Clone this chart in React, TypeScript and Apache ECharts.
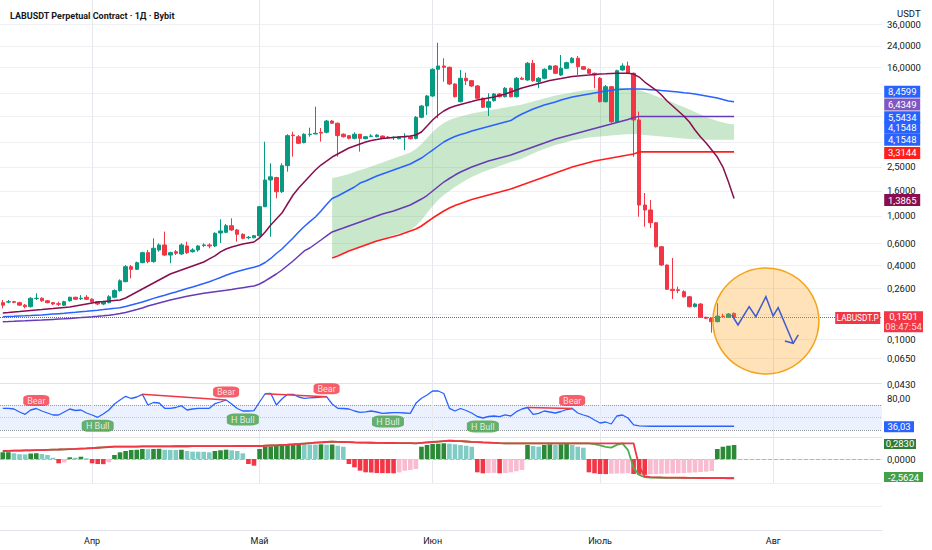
import React, { useEffect, useRef } from "react";
import * as echarts from "echarts";

// ---------------- categories (daily) ----------------
const START_UTC = Date.UTC(2025, 2, 16);
const DAY_COUNT = 158;
const monthNames = ["Янв", "Фев", "Мар", "Апр", "Май", "Июн", "Июль", "Авг", "Сен", "Окт", "Ноя", "Дек"];
const categories: string[] = Array.from({ length: DAY_COUNT }, (_, k) =>
  new Date(START_UTC + k * 86400000).toISOString().slice(0, 10)
);

// ---------------- price axis ticks ----------------
const priceTicks = [36, 24, 16, 10, 6.5, 4, 2.5, 1.6, 1, 0.6, 0.4, 0.26, 0.16, 0.1, 0.065, 0.043];
// tick labels that sit behind the value tags in the reference
const coveredTickLabels = [10, 6.5, 4, 0.16];
const edgeTickLabels = [0.043];
const rsiTickLabels = [80];

// ---------------- candles [open, close, low, high] ----------------
const candles = [
  [0.198, 0.189, 0.178, 0.208], [0.2, 0.2015, 0.1956, 0.208], [0.2015, 0.199, 0.196, 0.205], [0.198, 0.189, 0.187, 0.2015],
  [0.189, 0.1836, 0.178, 0.193], [0.1836, 0.215, 0.181, 0.219], [0.214, 0.215, 0.208, 0.236], [0.215, 0.205, 0.2015, 0.219],
  [0.205, 0.198, 0.1956, 0.208], [0.198, 0.193, 0.189, 0.2], [0.194, 0.192, 0.186, 0.2015], [0.189, 0.2015, 0.186, 0.205],
  [0.205, 0.219, 0.2015, 0.221], [0.219, 0.211, 0.208, 0.221], [0.213, 0.215, 0.208, 0.228], [0.219, 0.211, 0.208, 0.228],
  [0.211, 0.2015, 0.198, 0.215], [0.2015, 0.193, 0.189, 0.204], [0.193, 0.2015, 0.189, 0.205], [0.198, 0.221, 0.1956, 0.228],
  [0.219, 0.248, 0.215, 0.254], [0.248, 0.298, 0.243, 0.306], [0.293, 0.388, 0.29, 0.4], [0.388, 0.369, 0.312, 0.4],
  [0.369, 0.418, 0.365, 0.426], [0.418, 0.504, 0.413, 0.513], [0.504, 0.426, 0.413, 0.53], [0.426, 0.547, 0.418, 0.659],
  [0.53, 0.582, 0.513, 0.6], [0.582, 0.482, 0.474, 0.746], [0.482, 0.504, 0.413, 0.513], [0.513, 0.498, 0.482, 0.53],
  [0.492, 0.582, 0.482, 0.6], [0.571, 0.504, 0.492, 0.619], [0.513, 0.53, 0.504, 0.547], [0.53, 0.571, 0.513, 0.582],
  [0.576, 0.582, 0.56, 0.6], [0.582, 0.571, 0.547, 0.6], [0.571, 0.724, 0.56, 0.737], [0.728, 0.756, 0.604, 0.94],
  [0.737, 0.834, 0.724, 0.861], [0.834, 0.77, 0.756, 0.958], [0.77, 0.71, 0.619, 0.784], [0.71, 0.659, 0.647, 0.724],
  [0.666, 0.672, 0.647, 0.688], [0.666, 0.692, 0.659, 0.701], [0.692, 1.19, 0.679, 1.206], [1.19, 1.96, 1.18, 4.01],
  [1.96, 2.08, 0.679, 2.68], [2.05, 1.575, 1.392, 2.08], [1.575, 2.56, 1.537, 2.68], [2.56, 4.49, 2.29, 4.61],
  [4.54, 4.49, 3.03, 4.83], [4.4, 3.89, 3.84, 4.54], [3.94, 4.61, 3.89, 4.69], [4.58, 4.61, 4.4, 5.21],
  [4.63, 4.69, 4.61, 7.71], [4.78, 4.71, 4.01, 5.18], [4.78, 5.9, 4.69, 6.02], [5.9, 5.66, 5.59, 6.02],
  [5.66, 4.49, 3.03, 5.74], [4.61, 4.4, 4.33, 4.69], [4.49, 4.27, 4.18, 4.54], [4.27, 4.61, 4.19, 4.78],
  [4.61, 4.27, 3.33, 4.63], [4.24, 4.4, 4.19, 4.46], [4.43, 4.46, 4.35, 4.61], [4.4, 4.54, 4.35, 4.61],
  [4.46, 4.27, 4.22, 4.49], [4.37, 4.33, 4.24, 4.46], [4.33, 4.36, 4.14, 4.43], [4.24, 4.4, 4.19, 4.46],
  [4.37, 4.4, 3.43, 4.69], [4.4, 4.24, 4.19, 4.46], [4.27, 6.33, 4.19, 6.48], [6.33, 7.81, 6.21, 7.96],
  [7.81, 9.42, 6.61, 9.59], [9.42, 15.52, 9.24, 15.81], [15.52, 16.51, 6.21, 25.5], [16.51, 16.11, 12.31, 19.07],
  [16.11, 11.79, 11.57, 16.3], [11.79, 9.3, 9.16, 11.95], [8.47, 13.12, 8.36, 15.32], [13.12, 12.54, 11.57, 14.57],
  [12.54, 11.36, 11.15, 12.71], [11.36, 9.03, 8.92, 11.57], [9.03, 7.63, 7.54, 9.16], [7.63, 8.47, 6.48, 9.91],
  [8.63, 9.78, 8.47, 9.96], [9.78, 9.3, 9.16, 9.96], [9.3, 10.88, 9.16, 11.15], [10.88, 9.3, 9.16, 11.05],
  [9.3, 13.12, 9.16, 13.45], [13.12, 12.87, 12.71, 13.5], [12.71, 17.36, 12.54, 17.8], [17.36, 12.54, 12.31, 18.46],
  [12.31, 13.12, 10.88, 13.45], [13.12, 15.52, 12.87, 15.81], [15.52, 16.51, 15.32, 16.8], [16.51, 14.4, 14.22, 16.8],
  [13.95, 15.81, 13.7, 20.27], [15.81, 17.56, 15.6, 17.89], [17.56, 19.07, 17.36, 19.5], [19.07, 16.3, 13.95, 19.9],
  [16.3, 15.52, 15.32, 16.51], [15.52, 14.4, 14.22, 15.81], [14.4, 13.95, 10.88, 14.57], [13.12, 8.47, 8.36, 13.45],
  [8.47, 11.21, 8.36, 11.57], [11.21, 5.83, 5.69, 11.36], [5.83, 15.12, 5.69, 15.4], [15.32, 16.51, 15.1, 17.36],
  [16.51, 14.4, 14.22, 17.89], [14.4, 6.02, 3.03, 14.6], [6.02, 1.228, 0.987, 7.03], [1.228, 1.119, 0.819, 1.537],
  [1.119, 0.882, 0.799, 1.349], [0.882, 0.563, 0.555, 0.894], [0.563, 0.4, 0.393, 0.571], [0.4, 0.254, 0.251, 0.404],
  [0.254, 0.248, 0.212, 0.456], [0.252, 0.249, 0.236, 0.267], [0.243, 0.221, 0.218, 0.2495], [0.221, 0.1836, 0.181, 0.224],
  [0.1836, 0.193, 0.181, 0.197], [0.193, 0.1506, 0.1486, 0.1956], [0.1506, 0.1478, 0.146, 0.1525], [0.1478, 0.1387, 0.113, 0.1501],
  [0.1387, 0.154, 0.137, 0.1956], [0.154, 0.1525, 0.1486, 0.161], [0.1506, 0.16, 0.1486, 0.163], [0.162, 0.1501, 0.1486, 0.165],
];

// ---------------- moving averages ----------------
const maFast = [
  0.1632, 0.1647, 0.1663, 0.1678, 0.1694, 0.171, 0.1726, 0.1742, 0.1759, 0.1775,
  0.1792, 0.1809, 0.1826, 0.186, 0.1895, 0.1931, 0.1968, 0.2005, 0.2023, 0.2042,
  0.2062, 0.2081, 0.216, 0.2284, 0.2416, 0.2556, 0.2703, 0.2859, 0.3024, 0.3198,
  0.3382, 0.3511, 0.3645, 0.3784, 0.3928, 0.4078, 0.4233, 0.448, 0.4738, 0.5106,
  0.5397, 0.5602, 0.5761, 0.5925, 0.6037, 0.6151, 0.663, 0.7417, 0.8452, 0.9449,
  1.057, 1.251, 1.48, 1.687, 1.887, 2.111, 2.362, 2.593, 2.794, 3.011,
  3.185, 3.368, 3.563, 3.699, 3.84, 3.986, 4.1, 4.176, 4.255, 4.295,
  4.336, 4.376, 4.417, 4.459, 4.543, 4.805, 5.375, 6.013, 6.603, 7.116,
  7.526, 7.813, 8.035, 8.263, 8.498, 8.74, 8.9, 9.067, 9.239, 9.501,
  9.772, 10.14, 10.53, 10.94, 11.25, 11.57, 11.9, 12.23, 12.58, 12.81,
  13.05, 13.3, 13.55, 13.68, 13.81, 13.93, 14.07, 14.2, 14.25, 14.33,
  14.39, 14.39, 14.39, 14.2, 13.42, 12.23, 11.35, 10.53, 9.59, 8.578,
  7.813, 7.116, 6.481, 5.792, 4.988, 4.376, 3.912, 3.432, 3.011, 2.498, 1.887, 1.3865,
];
const maMid = [
  0.1523, 0.1529, 0.1534, 0.1543, 0.1549, 0.1557, 0.1566, 0.1575, 0.1587, 0.1599,
  0.1611, 0.1623, 0.1638, 0.1653, 0.1669, 0.1685, 0.1704, 0.172, 0.1739, 0.1759,
  0.1779, 0.1802, 0.1843, 0.1895, 0.1949, 0.2005, 0.2073, 0.2144, 0.2213, 0.2276,
  0.2349, 0.2416, 0.2494, 0.2575, 0.2653, 0.2739, 0.2832, 0.2929, 0.3046, 0.3168,
  0.3301, 0.3433, 0.3544, 0.3645, 0.3749, 0.3833, 0.3965, 0.4193, 0.4521, 0.4964,
  0.5397, 0.5981, 0.663, 0.7417, 0.8218, 0.899, 0.9809, 1.097, 1.239, 1.386,
  1.4526, 1.536, 1.625, 1.719, 1.852, 1.923, 2.015, 2.111, 2.192, 2.275,
  2.362, 2.452, 2.545, 2.642, 2.794, 2.955, 3.185, 3.432, 3.699, 3.986,
  4.216, 4.417, 4.586, 4.716, 4.896, 5.035, 5.178, 5.325, 5.477, 5.632,
  5.792, 5.957, 6.361, 6.728, 7.05, 7.387, 7.669, 7.96, 8.187, 8.419,
  8.74, 8.983, 9.239, 9.413, 9.59, 9.772, 9.956, 10.14, 10.335, 10.49,
  10.63, 10.69, 10.73, 10.73, 10.73, 10.67, 10.61, 10.53, 10.43, 10.335,
  10.24, 10.14, 10.01, 9.9, 9.772, 9.59, 9.413, 9.239, 9.067, 8.817, 8.578, 8.4599,
];
const maSlow = [
  0.1387, 0.1392, 0.1398, 0.1405, 0.1411, 0.1419, 0.1427, 0.1432, 0.144, 0.1448,
  0.1456, 0.1464, 0.1475, 0.1486, 0.1497, 0.1509, 0.152, 0.1534, 0.1549, 0.1566,
  0.1587, 0.1614, 0.1647, 0.1694, 0.1742, 0.1792, 0.186, 0.1913, 0.1968, 0.2023,
  0.2081, 0.2132, 0.218, 0.2229, 0.2276, 0.2319, 0.2358, 0.2394, 0.243, 0.2462,
  0.2494, 0.2532, 0.2575, 0.2619, 0.2663, 0.2703, 0.2806, 0.2968, 0.3168, 0.3382,
  0.3645, 0.3965, 0.4313, 0.4738, 0.5202, 0.5498, 0.5925, 0.6385, 0.6883, 0.7417,
  0.77, 0.7991, 0.8295, 0.8612, 0.894, 0.928, 0.9627, 1.0, 1.0375, 1.067,
  1.097, 1.1393, 1.1827, 1.228, 1.2985, 1.3735, 1.466, 1.595, 1.735, 1.887,
  2.015, 2.151, 2.275, 2.384, 2.498, 2.593, 2.692, 2.794, 2.874, 2.955,
  3.039, 3.126, 3.245, 3.368, 3.497, 3.631, 3.769, 3.912, 4.061, 4.216,
  4.336, 4.459, 4.586, 4.716, 4.85, 4.988, 5.13, 5.276, 5.426, 5.58,
  5.739, 5.902, 6.07, 6.302, 6.4349, 6.4349, 6.4349, 6.4349, 6.4349, 6.4349,
  6.4349, 6.4349, 6.4349, 6.4349, 6.4349, 6.4349, 6.4349, 6.4349, 6.4349, 6.4349, 6.4349, 6.4349,
];
const LONG_START = 59;
const maLong = [
  0.4564, 0.4738, 0.4964, 0.5202, 0.5397, 0.5602, 0.5815, 0.6037, 0.6267, 0.6447,
  0.663, 0.6819, 0.7013, 0.728, 0.7557, 0.7843, 0.8295, 0.894, 0.9627, 1.0278,
  1.097, 1.1608, 1.2163, 1.2627, 1.3107, 1.3606, 1.3993, 1.439, 1.48, 1.522,
  1.565, 1.61, 1.656, 1.719, 1.784, 1.852, 1.923, 1.996, 2.072, 2.151,
  2.233, 2.318, 2.406, 2.498, 2.569, 2.642, 2.717, 2.794, 2.847, 2.901,
  2.955, 3.011, 3.068, 3.126, 3.185,
  3.3144, 3.3144, 3.3144, 3.3144, 3.3144, 3.3144, 3.3144, 3.3144, 3.3144,
  3.3144, 3.3144, 3.3144, 3.3144, 3.3144, 3.3144, 3.3144, 3.3144, 3.3144,
];
const cloudUpper = [
  2.034, 2.072, 2.131, 2.192, 2.275, 2.362, 2.429, 2.521, 2.617, 2.717,
  2.821, 2.928, 3.039, 3.155, 3.275, 3.497, 3.84, 4.295, 4.805, 5.276,
  5.685, 6.013, 6.243, 6.421, 6.603, 6.791, 6.919, 7.05, 7.183, 7.318,
  7.456, 7.597, 7.74, 7.886, 8.035, 8.263, 8.498, 8.74, 8.983, 9.239,
  9.501, 9.681, 9.863, 10.05, 10.24, 10.43, 10.53, 10.63, 10.73, 10.83,
  10.9, 10.94, 10.94, 10.94, 10.83, 10.53, 10.14, 9.772, 9.413, 9.067,
  8.74, 8.341, 7.96, 7.669, 7.318, 6.984, 6.665, 6.361, 6.128, 5.902,
  5.739, 5.6, 5.5434,
];
const cloudLower = [
  0.465, 0.4827, 0.5011, 0.5202, 0.5397, 0.5602, 0.5815, 0.6037, 0.6267, 0.6508,
  0.6756, 0.7013, 0.7212, 0.7417, 0.77, 0.8295, 0.928, 1.057, 1.205, 1.348,
  1.48, 1.595, 1.719, 1.835, 1.959, 2.072, 2.171, 2.275, 2.362, 2.452,
  2.545, 2.642, 2.743, 2.821, 2.928, 3.068, 3.215, 3.368, 3.497, 3.631,
  3.769, 3.876, 3.986, 4.1, 4.176, 4.255, 4.336, 4.376, 4.417, 4.459,
  4.501, 4.543, 4.586, 4.611, 4.629, 4.586, 4.543, 4.501, 4.459, 4.417,
  4.376, 4.336, 4.295, 4.255, 4.216, 4.192, 4.176, 4.161, 4.1548, 4.1548,
  4.1548, 4.1548, 4.1548,
];

// ---------------- RSI ----------------
const rsi = [
  64.7, 64.7, 63.6, 58.8, 55.1, 62, 64.4, 60.4, 57.2, 54,
  54, 58.8, 63.6, 61.2, 62, 57.2, 54, 50.3, 55.6, 62,
  71.6, 78, 83.9, 80.4, 82.8, 87.1, 70, 74, 73.2, 64.7,
  64.7, 66, 68.9, 62, 63.6, 64.7, 64.7, 64.7, 72.1, 74.8,
  78, 71.6, 64.4, 60.4, 60.4, 60.9, 74.8, 88, 88.7, 70,
  79.6, 87.1, 87.1, 82.8, 80.7, 81.5, 82, 82.8, 83.3, 71.6,
  64.7, 64.4, 63.6, 60.4, 58.3, 59.1, 60.4, 58.8, 56.7, 57.2,
  57.7, 57.7, 57.2, 56.7, 72.7, 80.7, 86, 92.4, 92.4, 88.4,
  64.7, 60.4, 64.4, 61.2, 57.2, 51.6, 49.2, 51.6, 52.4, 51.3,
  54.3, 52.4, 59.3, 63.6, 66, 55.1, 56.7, 60.4, 58.8, 57.2,
  59.6, 62.8, 64.4, 57.2, 54, 51.3, 46, 41.2, 42.8, 39.6,
  52.4, 54, 49.2, 38.3, 36.7, 36.1, 36.03, 36.03, 36.03, 36.03,
  36.03, 36.03, 36.03, 36.03, 36.03, 36.03, 36.03, 36.03, 36.03, 36.03, 36.03, 36.03,
];
const bearPivots = [6, 40, 58, 102];
const bullPivots = [17, 43, 69, 86];
const bearDivergences = [[25, 40], [47, 58], [94, 102]];

// ---------------- MACD ----------------
const macdHist = [
  0.135, 0.137, 0.115, 0.097, 0.093, 0.113, 0.117, 0.101, 0.081, 0.026,
  -0.087, -0.071, 0.034, 0.026, 0.046, 0.014, -0.087, -0.101, -0.105, -0.067,
  0.081, 0.135, 0.162, 0.182, 0.186, 0.202, 0.198, 0.202, 0.206, 0.186,
  0.184, 0.182, 0.186, 0.162, 0.149, 0.147, 0.145, 0.135, 0.162, 0.176,
  0.188, 0.176, 0.162, 0.115, -0.101, -0.135, 0.202, 0.248, 0.25, 0.269,
  0.283, 0.285, 0.287, 0.297, 0.295, 0.293, 0.291, 0.297, 0.289, 0.293,
  0.269, 0.248, -0.101, -0.168, -0.236, -0.269, -0.273, -0.283, -0.285, -0.287,
  -0.289, -0.269, -0.236, -0.222, -0.202, 0.248, 0.283, 0.303, 0.309, 0.317,
  0.309, 0.297, 0.283, 0.269, 0.248, -0.269, -0.289, -0.283, -0.279, -0.289,
  -0.283, -0.269, -0.248, -0.222, 0.283, 0.263, 0.248, 0.283, 0.297, 0.283,
  0.297, 0.303, 0.283, 0.248, 0.228, -0.269, -0.289, -0.303, -0.305, -0.297,
  -0.295, -0.293, -0.289, -0.303, -0.317, -0.319, -0.309, -0.303, -0.299, -0.295,
  -0.291, -0.287, -0.283, -0.277, -0.271, -0.263, -0.255, -0.242, 0.202, 0.248, 0.269, 0.283,
];
const macdRed = [
  1.08, 1.1, 1.12, 1.14, 1.16, 1.17, 1.19, 1.21, 1.24, 1.26,
  1.28, 1.31, 1.34, 1.36, 1.39, 1.42, 1.47, 1.52, 1.57, 1.62,
  1.66, 1.66, 1.67, 1.68, 1.68, 1.69, 1.69, 1.7, 1.7, 1.71,
  1.71, 1.72, 1.72, 1.72, 1.73, 1.73, 1.73, 1.73, 1.74, 1.74,
  1.74, 1.74, 1.75, 1.75, 1.75, 1.75, 1.75, 1.79, 1.82, 1.85,
  1.89, 1.93, 1.98, 2.02, 2.08, 2.14, 2.2, 2.25, 2.29, 2.33,
  2.31, 2.29, 2.27, 2.24, 2.22, 2.2, 2.19, 2.18, 2.17, 2.16,
  2.16, 2.15, 2.14, 2.13, 2.12, 2.18, 2.24, 2.29, 2.35, 2.41,
  2.47, 2.43, 2.4, 2.36, 2.31, 2.27, 2.23, 2.2, 2.17, 2.14,
  2.12, 2.12, 2.12, 2.12, 2.12, 2.12, 2.12, 2.12, 2.12, 2.12,
  2.12, 2.12, 2.12, 2.12, 2.12, 2.12, 2.12, 2.12, 2.12, 2.12,
  2.12, 2.12, 2.12, 2.12, -1.0, -2.35, -2.45, -2.47, -2.49, -2.5,
  -2.51, -2.52, -2.53, -2.54, -2.55, -2.56, -2.57, -2.58, -2.59, -2.59, -2.6, -2.6,
];
const macdGreen = [
  1.08, 1.1, 1.12, 1.14, 1.16, 1.17, 1.19, 1.21, 1.24, 1.26,
  1.28, 1.31, 1.34, 1.36, 1.39, 1.42, 1.47, 1.52, 1.57, 1.62,
  1.66, 1.66, 1.67, 1.68, 1.68, 1.69, 1.69, 1.7, 1.7, 1.71,
  1.71, 1.72, 1.72, 1.72, 1.73, 1.73, 1.73, 1.73, 1.74, 1.74,
  1.74, 1.74, 1.75, 1.75, 1.75, 1.75, 1.75, 1.79, 1.82, 1.85,
  1.89, 1.93, 1.98, 2.02, 2.08, 2.14, 2.2, 2.25, 2.29, 2.33,
  2.31, 2.29, 2.27, 2.24, 2.22, 2.2, 2.19, 2.18, 2.17, 2.16,
  2.16, 2.15, 2.14, 2.13, 2.12, 2.18, 2.24, 2.29, 2.35, 2.41,
  2.47, 2.43, 2.4, 2.36, 2.31, 2.27, 2.23, 2.2, 2.17, 2.14,
  2.12, 2.12, 2.12, 2.12, 2.12, 2.12, 2.12, 2.12, 2.12, 2.12,
  2.12, 2.12, 2.12, 2.12, 2.12, 2.1, 2.0, 1.85, 1.65, 1.53,
  1.9, 2.1, 1.2, -1.2, -2.16, -2.45, -2.5, -2.52, -2.53, -2.54,
  -2.545, -2.55, -2.553, -2.555, -2.557, -2.558, -2.559, -2.56, -2.561, -2.562, -2.562, -2.5624,
];

// ---------------- drawing: projection zigzag & zone ----------------
const projX = [130.6, 131.7, 133.7, 134.9, 136.7, 138.0, 138.9, 141.6];
const projP = [0.1572, 0.1304, 0.1836, 0.1523, 0.2213, 0.1543, 0.1802, 0.0926];
const arrowX = [140.1, 141.6, 142.5];
const arrowP = [0.0967, 0.0926, 0.1082];
const zoneCenter = [136.7, 0.1405];
const countdown = "08:47:54";
const symbolName = "LABUSDT.P";

// ---------------- styling constants ----------------
const FONT = "Roboto";
const UP = "#089981";
const DOWN = "#f23645";
const GRID_LINE = "#eef0f4";
const V_LINE = "#e6e8ee";
const SEP = "#e0e3eb";
const PRICE_MIN = 0.04169;
const PRICE_MAX = 56.66;
const RSI_MAX = 105.2;
const LAST_CAT = DAY_COUNT - 1;

const fmt4 = (v: number) => v.toFixed(4).replace(".", ",");
const fmt2 = (v: number) => v.toFixed(2).replace(".", ",");
const pad = (arr: number[], start: number) => {
  const out: (number | null)[] = new Array(DAY_COUNT).fill(null);
  arr.forEach((v, k) => (out[start + k] = v));
  return out;
};

function buildOption(): any {
  const N = candles.length;
  const monthStarts = categories.filter((c) => c.endsWith("-01"));
  const vLines = monthStarts.map((c) => ({
    xAxis: c,
    lineStyle: { color: V_LINE, width: 1, type: "solid" },
    label: { show: false },
  }));
  const tag = (coord: any[], text: string, color: string, w: number, h: number, dx: number, dy: number, fs = 9.5) => ({
    coord,
    symbol: "rect",
    symbolSize: [w, h],
    symbolOffset: [dx, dy],
    itemStyle: { color },
    label: { show: true, position: "inside", formatter: text, color: "#fff", fontSize: fs, fontFamily: FONT },
  });
  // plain axis-style text placed at the price scale
  const scaleText = (coord: any[], text: string) => ({
    coord,
    symbol: "rect",
    symbolSize: [34, 10],
    symbolOffset: [24.8, 0],
    itemStyle: { color: "rgba(0,0,0,0)" },
    label: { show: true, position: "insideLeft", distance: 0, formatter: text, color: "#131722", fontSize: 9.5, fontFamily: FONT },
  });

  const lastClose = candles[N - 1][1];
  const mainTagVals = [
    maMid[N - 1], maSlow[N - 1], cloudUpper[cloudUpper.length - 1],
    cloudLower[cloudLower.length - 1], cloudLower[cloudLower.length - 1],
    maLong[maLong.length - 1], maFast[N - 1],
  ];
  const mainTagColors = ["#2962ff", "#7e57c2", "#2962ff", "#2962ff", "#2962ff", "#ff1e1e", "#880e4f"];
  const mainTagShift = [-10, -12, -7, -12, 0, 1, 1.5];

  const histData = macdHist.map((v, k) => {
    const prev = k > 0 ? macdHist[k - 1] : null;
    let color;
    if (v >= 0) color = prev === null || v >= prev ? "#2a8a36" : "#80cbc4";
    else color = prev !== null && v > prev ? "#f8bbd0" : "#f23645";
    return { value: v, itemStyle: { color } };
  });

  const catAxis = (gridIndex: number, showLabels: boolean, showLine = true) => ({
    type: "category",
    gridIndex,
    data: categories,
    boundaryGap: true,
    axisLine: { show: showLine, lineStyle: { color: SEP } },
    axisTick: { show: false },
    splitLine: { show: false },
    axisLabel: showLabels
      ? {
          show: true,
          interval: (_i: number, v: string) => v.endsWith("-01"),
          formatter: (v: string) => monthNames[Number(v.slice(5, 7)) - 1],
          color: "#131722",
          fontSize: 9,
          fontFamily: FONT,
          margin: 6,
        }
      : { show: false },
  });

  return {
    animation: false,
    backgroundColor: "#ffffff",
    textStyle: { fontFamily: FONT },
    title: [
      {
        text: "LABUSDT Perpetual Contract · 1Д · Bybit",
        left: 5,
        top: 6,
        textStyle: { fontSize: 9, fontWeight: "bold", color: "#131722", fontFamily: FONT },
      },
      {
        text: "USDT",
        left: 892,
        top: 3,
        textStyle: { fontSize: 9.5, fontWeight: "normal", color: "#131722", fontFamily: FONT },
      },
    ],
    grid: [
      { left: 0, right: 50, top: 0, height: 386 },
      { left: 0, right: 50, top: 383, height: 54 },
      { left: 0, right: 50, top: 437, height: 46 },
      { left: 0, right: 50, top: 483, height: 47 },
    ],
    xAxis: [
      catAxis(0, false, false),
      catAxis(1, false),
      catAxis(2, false),
      catAxis(3, true),
      { type: "value", gridIndex: 0, min: -0.5, max: DAY_COUNT - 0.5, show: false },
    ],
    yAxis: [
      { type: "log", gridIndex: 0, min: PRICE_MIN, max: PRICE_MAX, show: false },
      { type: "value", gridIndex: 1, min: 18.8, max: RSI_MAX, show: false },
      { type: "value", gridIndex: 2, min: -0.4848, max: 0.4444, show: false },
      { type: "value", gridIndex: 2, min: -3.2367, max: 2.967, show: false },
      {
        type: "value", gridIndex: 3, min: 0, max: 2, interval: 1,
        axisLabel: { show: false }, axisLine: { show: false }, axisTick: { show: false },
        splitLine: { show: true, lineStyle: { color: GRID_LINE } },
      },
    ],
    series: [
      // main grid lines + price labels
      {
        type: "line",
        xAxisIndex: 0,
        yAxisIndex: 0,
        data: pad([], 0),
        silent: true,
        z: 0,
        markLine: {
          silent: true,
          symbol: ["none", "none"],
          z: 0,
          animation: false,
          data: [
            ...priceTicks.map((v) => ({
              yAxis: v,
              lineStyle: { color: GRID_LINE, width: 1, type: "solid" },
              label: {
                show: coveredTickLabels.indexOf(v) < 0 && edgeTickLabels.indexOf(v) < 0,
                position: "end", distance: 5, formatter: fmt4(v), color: "#131722", fontSize: 9.5, fontFamily: FONT,
              },
            })),
            ...vLines,
          ],
        },
        markPoint: {
          z: 1,
          animation: false,
          silent: true,
          data: edgeTickLabels.map((v) => scaleText([LAST_CAT, v], fmt4(v))),
        },
      },
      // cloud band
      {
        type: "custom",
        xAxisIndex: 0,
        yAxisIndex: 0,
        z: 1,
        silent: true,
        data: [[LONG_START, cloudUpper[0]]],
        renderItem: (params: any, api: any) => {
          if (params.dataIndex !== 0) return null;
          const pts: number[][] = [];
          for (let k = 0; k < cloudUpper.length; k++) pts.push(api.coord([LONG_START + k, cloudUpper[k]]));
          for (let k = cloudLower.length - 1; k >= 0; k--) pts.push(api.coord([LONG_START + k, cloudLower[k]]));
          return { type: "polygon", shape: { points: pts }, style: { fill: "rgba(76,175,80,0.3)" } };
        },
      },
      // candles
      {
        type: "candlestick",
        xAxisIndex: 0,
        yAxisIndex: 0,
        z: 3,
        barWidth: 4,
        data: candles,
        itemStyle: { color: UP, color0: DOWN, borderColor: UP, borderColor0: DOWN, borderWidth: 1 },
        markLine: {
          silent: true,
          symbol: ["none", "none"],
          z: 2,
          animation: false,
          data: [{ yAxis: lastClose, lineStyle: { color: DOWN, width: 1, type: "dotted" }, label: { show: false } }],
        },
        markPoint: {
          z: 10,
          animation: false,
          silent: true,
          data: [
            tag([LAST_CAT, lastClose], symbolName, DOWN, 45, 12, -21.5, 0.5, 8.3),
            {
              coord: [LAST_CAT, lastClose],
              symbol: "rect",
              symbolSize: [39, 21],
              symbolOffset: [24.3, 4.2],
              itemStyle: { color: DOWN },
              label: {
                show: true,
                position: "inside",
                formatter: `{a|${fmt4(lastClose)}}\n{b|${countdown}}`,
                rich: {
                  a: { color: "#fff", fontSize: 9.5, fontFamily: FONT, lineHeight: 10 },
                  b: { color: "rgba(255,255,255,0.82)", fontSize: 9.5, fontFamily: FONT, lineHeight: 10 },
                },
              },
            },
          ],
        },
      },
      // moving averages
      {
        type: "line", xAxisIndex: 0, yAxisIndex: 0, z: 4, data: pad(maSlow, 0), showSymbol: false, symbol: "none",
        lineStyle: { color: "#673ab7", width: 1.5 }, silent: true,
      },
      {
        type: "line", xAxisIndex: 0, yAxisIndex: 0, z: 4, data: pad(maLong, LONG_START), showSymbol: false, symbol: "none",
        lineStyle: { color: "#ff1e1e", width: 1.6 }, silent: true,
      },
      {
        type: "line", xAxisIndex: 0, yAxisIndex: 0, z: 4, data: pad(maMid, 0), showSymbol: false, symbol: "none",
        lineStyle: { color: "#2962ff", width: 1.5 }, silent: true,
        markPoint: {
          z: 10,
          animation: false,
          silent: true,
          data: mainTagVals.map((v, k) => tag([LAST_CAT, v], fmt4(v), mainTagColors[k], 36, 12, 23, mainTagShift[k])),
        },
      },
      {
        type: "line", xAxisIndex: 0, yAxisIndex: 0, z: 4, data: pad(maFast, 0), showSymbol: false, symbol: "none",
        lineStyle: { color: "#880e4f", width: 1.5 }, silent: true,
      },
      // drawing: zone + projection
      {
        type: "custom",
        xAxisIndex: 4,
        yAxisIndex: 0,
        z: 6,
        silent: true,
        data: [zoneCenter],
        renderItem: (params: any, api: any) => {
          if (params.dataIndex !== 0) return null;
          const c = api.coord(zoneCenter);
          const pts = projX.map((x, k) => api.coord([x, projP[k]]));
          const arr = arrowX.map((x, k) => api.coord([x, arrowP[k]]));
          return {
            type: "group",
            children: [
              { type: "circle", shape: { cx: c[0], cy: c[1], r: 53 }, style: { fill: "rgba(255,152,0,0.28)", stroke: "#f5a31a", lineWidth: 1.5 } },
              { type: "polyline", shape: { points: pts }, style: { stroke: "#3f5bd0", lineWidth: 1.5, fill: null } },
              { type: "polyline", shape: { points: arr }, style: { stroke: "#3f5bd0", lineWidth: 1.5, fill: null } },
            ],
          };
        },
      },
      // RSI
      {
        type: "line",
        xAxisIndex: 1,
        yAxisIndex: 1,
        z: 3,
        data: pad(rsi, 0),
        showSymbol: false,
        symbol: "none",
        silent: true,
        lineStyle: { color: "#2962ff", width: 1.3 },
        markArea: {
          silent: true,
          z: 1,
          itemStyle: { color: "rgba(41,98,255,0.09)" },
          data: [[{ yAxis: 70 }, { yAxis: 30 }]],
        },
        markLine: {
          silent: true,
          symbol: ["none", "none"],
          z: 1,
          animation: false,
          data: [
            { yAxis: RSI_MAX, lineStyle: { color: SEP, width: 1, type: "solid" }, label: { show: false } },
            { yAxis: 70, lineStyle: { color: "#9598a1", width: 1, type: "dotted" }, label: { show: false } },
            { yAxis: 50, lineStyle: { color: "#c3c6ce", width: 1, type: "dotted" }, label: { show: false } },
            { yAxis: 30, lineStyle: { color: "#9598a1", width: 1, type: "dotted" }, label: { show: false } },
            ...vLines,
          ],
        },
        markPoint: {
          z: 10,
          animation: false,
          silent: true,
          data: [
            ...rsiTickLabels.map((v) => scaleText([LAST_CAT, v], fmt2(v))),
            tag([LAST_CAT, rsi[N - 1]], fmt2(rsi[N - 1]), "#2962ff", 30, 11, 19.8, 0.5),
          ],
        },
      },
      {
        type: "lines",
        coordinateSystem: "cartesian2d",
        xAxisIndex: 1,
        yAxisIndex: 1,
        z: 4,
        silent: true,
        lineStyle: { color: "#f23645", width: 1.5, opacity: 1 },
        data: bearDivergences.map(([a, b]) => ({ coords: [[a, rsi[a]], [b, rsi[b]]] })),
      },
      {
        type: "scatter",
        xAxisIndex: 1,
        yAxisIndex: 1,
        z: 6,
        silent: true,
        data: bearPivots.map((i) => [i, rsi[i]]),
        symbol: "roundRect",
        symbolSize: [26, 11],
        symbolOffset: [0, -8],
        itemStyle: { color: "#f23645" },
        label: { show: true, position: "inside", formatter: "Bear", color: "#fff", fontSize: 9, fontFamily: FONT },
      },
      {
        type: "scatter",
        xAxisIndex: 1,
        yAxisIndex: 1,
        z: 6,
        silent: true,
        data: bullPivots.map((i) => [i, rsi[i]]),
        symbol: "roundRect",
        symbolSize: [32, 12],
        symbolOffset: [0, 8.5],
        itemStyle: { color: "#43a047" },
        label: { show: true, position: "inside", formatter: "H Bull", color: "#fff", fontSize: 9, fontFamily: FONT },
      },
      // MACD histogram
      {
        type: "bar",
        xAxisIndex: 2,
        yAxisIndex: 2,
        z: 2,
        silent: true,
        barWidth: 4.6,
        data: pad([], 0).map((_, k) => (k < histData.length ? histData[k] : null)),
        markLine: {
          silent: true,
          symbol: ["none", "none"],
          z: 1,
          animation: false,
          data: [
            {
              yAxis: 0, lineStyle: { color: "#b2b5be", width: 1, type: "dashed" },
              label: { show: true, position: "end", distance: 5, formatter: fmt4(0), color: "#131722", fontSize: 9.5, fontFamily: FONT },
            },
            ...vLines,
          ],
        },
        markPoint: {
          z: 10,
          animation: false,
          silent: true,
          data: [tag([LAST_CAT, macdHist[N - 1]], fmt4(macdHist[N - 1]), "#2e7d32", 32, 10, 20.8, -1)],
        },
      },
      {
        type: "line", xAxisIndex: 2, yAxisIndex: 3, z: 3, data: pad(macdGreen, 0), showSymbol: false, symbol: "none",
        lineStyle: { color: "#4caf50", width: 1.8 }, silent: true,
        markPoint: {
          z: 10,
          animation: false,
          silent: true,
          data: [tag([LAST_CAT, macdGreen[N - 1]], fmt4(macdGreen[N - 1]), "#43a047", 39, 10, 24.3, -1)],
        },
      },
      {
        type: "line", xAxisIndex: 2, yAxisIndex: 3, z: 4, data: pad(macdRed, 0), showSymbol: false, symbol: "none",
        lineStyle: { color: "#f23645", width: 1.8 }, silent: true,
      },
    ],
  };
}

export default function App() {
  const ref = useRef<HTMLDivElement>(null);
  useEffect(() => {
    document.body.style.margin = "0";
    const chart = echarts.init(ref.current as HTMLDivElement, null, { renderer: "svg" });
    chart.setOption(buildOption());
    return () => chart.dispose();
  }, []);
  return <div ref={ref} style={{ width: 932, height: 550, position: "absolute", left: 0, top: 0 }} />;
}
